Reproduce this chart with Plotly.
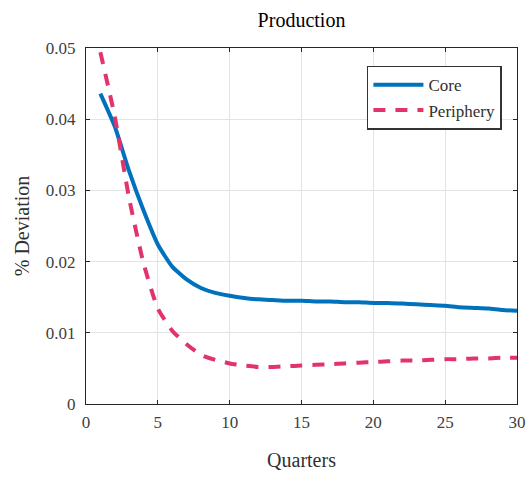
import plotly.graph_objects as go

quarters = list(range(1, 31))
core = [0.0436, 0.0390, 0.0327, 0.0272, 0.0224, 0.0193, 0.0175, 0.0163, 0.0156, 0.0152,
        0.0149, 0.0147, 0.0146, 0.0145, 0.0145, 0.0144, 0.0144, 0.0143, 0.0143, 0.0142,
        0.0142, 0.0141, 0.0140, 0.0139, 0.0138, 0.0136, 0.0135, 0.0134, 0.0132, 0.0131]
periphery = [0.0494, 0.0404, 0.0289, 0.0198, 0.0134, 0.0103, 0.0084, 0.0069, 0.0062, 0.0057,
             0.0054, 0.0052, 0.0052, 0.0053, 0.0054, 0.0055, 0.0056, 0.0057, 0.0058, 0.0059,
             0.0060, 0.0061, 0.0061, 0.0062, 0.0063, 0.0063, 0.0064, 0.0064, 0.0065, 0.0065]
x_ticks = [0, 5, 10, 15, 20, 25, 30]
y_ticks = [0, 0.01, 0.02, 0.03, 0.04, 0.05]
y_ticklabels = ["0", "0.01", "0.02", "0.03", "0.04", "0.05"]

FONT = "Liberation Serif, DejaVu Serif, serif"

fig = go.Figure()
fig.add_trace(go.Scatter(x=quarters, y=core, mode="lines", name="Core",
                         line=dict(color="#0072BD", width=4, shape="spline", smoothing=0.5)))
fig.add_trace(go.Scatter(x=quarters, y=periphery, mode="lines", name="Periphery",
                         line=dict(color="#E2336B", width=4, dash="12px,10px", shape="spline", smoothing=0.5)))

axis_common = dict(showline=True, linecolor="#262626", linewidth=1.2, mirror="ticks",
                   ticks="inside", ticklen=4, tickcolor="#262626", automargin=False,
                   showgrid=True, gridcolor="#E3E3E3", gridwidth=1, zeroline=False,
                   tickfont=dict(family=FONT, size=17, color="#404040"))

fig.update_layout(
    width=529, height=478,
    margin=dict(l=86, r=12, t=48, b=74),
    paper_bgcolor="white", plot_bgcolor="white",
    title=dict(text="Production", x=(86 + 517) / 2 / 529, xanchor="center",
               y=1 - 20 / 478, yanchor="middle", yref="container",
               font=dict(family=FONT, size=20, color="#000000")),
    xaxis=dict(range=[0, 30], tickvals=x_ticks, ticktext=[str(v) for v in x_ticks],
               ticklabelstandoff=2,
               title=dict(text="Quarters", font=dict(family=FONT, size=20, color="#303030"), standoff=22),
               **axis_common),
    yaxis=dict(range=[0, 0.05], tickvals=y_ticks, ticktext=y_ticklabels,
               ticklabelstandoff=6,
               title=dict(text="% Deviation", font=dict(family=FONT, size=20, color="#303030"), standoff=10),
               **axis_common),
    legend=dict(x=0.965, y=0.95, xanchor="right", yanchor="top",
                bgcolor="white", bordercolor="#333333", borderwidth=1.5,
                font=dict(family=FONT, size=17, color="#303030"),
                itemwidth=50, tracegroupgap=0),
    showlegend=True,
)

fig.write_html("out.html")
